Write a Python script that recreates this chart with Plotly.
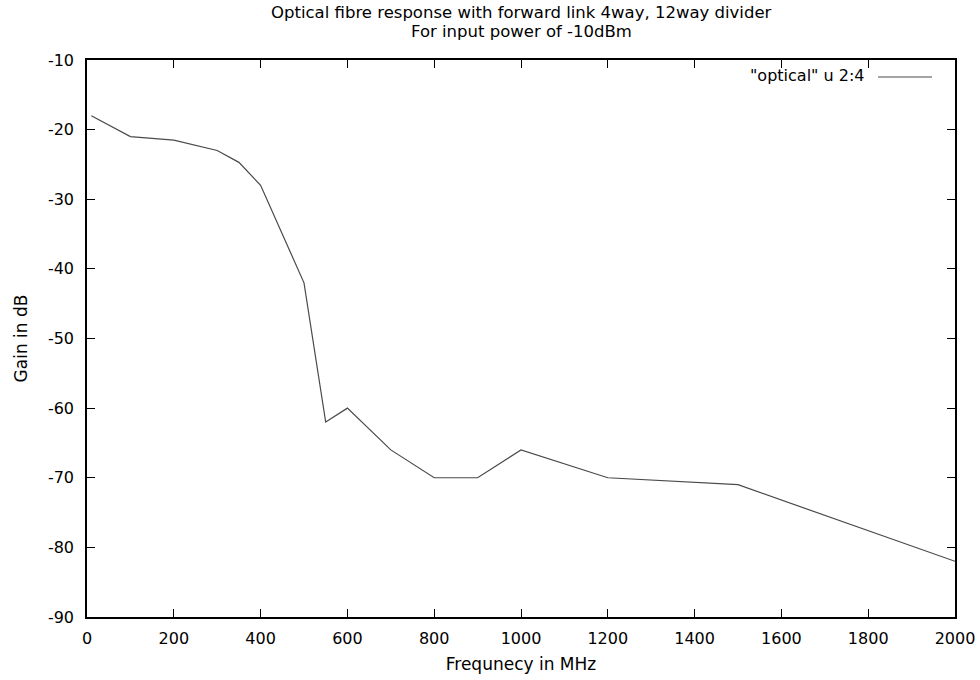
import plotly.graph_objects as go

freq_mhz = [10, 100, 200, 300, 350, 400, 500, 550, 600, 700, 800, 900, 1000, 1200, 1500, 2000]
gain_db = [-18, -21, -21.5, -23, -24.7, -28, -42, -62, -60, -66, -70, -70, -66, -70, -71, -82]
x_ticks = [0, 200, 400, 600, 800, 1000, 1200, 1400, 1600, 1800, 2000]
y_ticks = [-90, -80, -70, -60, -50, -40, -30, -20, -10]
series_name = '"optical" u 2:4'
title_lines = ["Optical fibre response with forward link 4way, 12way divider",
               "For input power of -10dBm"]

font_family = "DejaVu Sans, sans-serif"
line_color = "#4a4a4a"

fig = go.Figure()
fig.add_trace(go.Scatter(
    x=freq_mhz, y=gain_db, mode="lines", name=series_name,
    line=dict(color=line_color, width=1.2), showlegend=False,
))

axis_common = dict(
    showgrid=False, zeroline=False, showline=True, linecolor="black", linewidth=1.5,
    mirror="ticks", ticks="inside", ticklen=8, tickwidth=1.2, tickcolor="black",
    tickfont=dict(family=font_family, size=16, color="black"), automargin=False,
)

fig.update_layout(
    width=980, height=680,
    margin=dict(l=87, r=25, t=60, b=63),
    paper_bgcolor="white", plot_bgcolor="white",
    font=dict(family=font_family, color="black"),
    xaxis=dict(axis_common, range=[0, 2000], tickvals=x_ticks,
               ticktext=[str(v) for v in x_ticks], ticklabelstandoff=6,
               title=dict(text="Frequnecy in MHz", font=dict(family=font_family, size=17), standoff=11)),
    yaxis=dict(axis_common, range=[-90, -10], tickvals=y_ticks,
               ticktext=[str(v) for v in y_ticks], ticklabelstandoff=8,
               title=dict(text="Gain in dB", font=dict(family=font_family, size=17), standoff=16)),
    showlegend=False,
)

# title as two centred lines (gnuplot style spacing)
for txt, ypx in zip(title_lines, [12, 31]):
    fig.add_annotation(
        x=0.5, xref="paper", xanchor="center",
        y=1 + (60 - ypx) / 557, yref="paper", yanchor="middle",
        text=txt, showarrow=False,
        font=dict(family=font_family, size=16.5, color="black"),
    )

# legend entry in gnuplot style: text then line sample
fig.add_annotation(
    x=(867 - 87) / 868, y=1 - (76 - 60) / 557, xref="paper", yref="paper",
    xanchor="right", yanchor="middle",
    text=series_name, showarrow=False,
    font=dict(family=font_family, size=16, color="black"),
)
fig.add_shape(
    type="line", xref="paper", yref="paper",
    x0=(878 - 87) / 868, x1=(932 - 87) / 868,
    y0=1 - (77 - 60) / 557, y1=1 - (77 - 60) / 557,
    line=dict(color=line_color, width=1.2),
)

fig.write_html("out.html")
